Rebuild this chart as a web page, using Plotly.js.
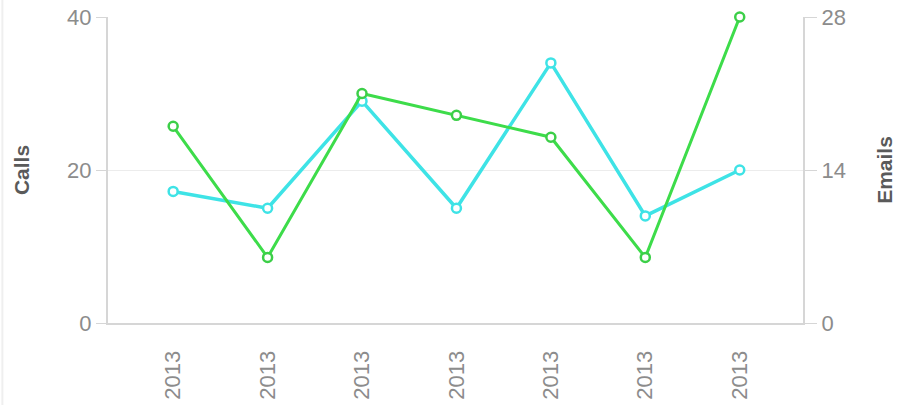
<!DOCTYPE html>
<html>
<head>
<meta charset="utf-8">
<script src="https://cdn.plot.ly/plotly-3.0.1.min.js"></script>
<style>
html,body{margin:0;padding:0;background:#fff;}
#chart{width:904px;height:405px;}
</style>
</head>
<body>
<div id="chart"></div>
<script>
const positions = [0, 1, 2, 3, 4, 5, 6];
const tickLabels = ["2013", "2013", "2013", "2013", "2013", "2013", "2013"];
const calls = [17.2, 15, 29, 15, 34, 14, 20];
const emails = [18, 6, 21, 19, 17, 6, 28];

const traces = [
  {
    x: positions, y: calls, name: "Calls", yaxis: "y",
    mode: "lines+markers", type: "scatter",
    line: {color: "#3ee3e6", width: 3.5},
    marker: {symbol: "circle", size: 9, color: "#ffffff", line: {color: "#3ee3e6", width: 2.5}},
    cliponaxis: false
  },
  {
    x: positions, y: emails, name: "Emails", yaxis: "y2",
    mode: "lines+markers", type: "scatter",
    line: {color: "#3ddc4a", width: 3},
    marker: {symbol: "circle", size: 9, color: "#ffffff", line: {color: "#3ccf48", width: 2.5}},
    cliponaxis: false
  }
];

const tickFont = {family: "Liberation Sans, Arial, sans-serif", size: 22, color: "#8c8c8c"};
const titleFont = {family: "Liberation Sans, Arial, sans-serif", size: 21, color: "#5a5a5a", weight: "bold"};

const layout = {
  width: 904, height: 405,
  margin: {l: 108, r: 101, t: 17, b: 82},
  paper_bgcolor: "#ffffff", plot_bgcolor: "#ffffff",
  showlegend: false,
  xaxis: {
    range: [-0.69, 6.67],
    tickmode: "array", tickvals: positions, ticktext: tickLabels,
    tickangle: -90, tickfont: tickFont,
    showgrid: false, zeroline: false,
    showline: true, linecolor: "#d6d6d6", linewidth: 2,
    ticks: "outside", ticklen: 17, tickcolor: "rgba(0,0,0,0)"
  },
  yaxis: {
    range: [0, 40], tickvals: [0, 20, 40],
    tickfont: tickFont,
    title: {text: "Calls", font: titleFont, standoff: 32},
    showgrid: true, gridcolor: "#ececec", gridwidth: 1,
    zeroline: false, showline: true, linecolor: "#d6d6d6", linewidth: 2,
    ticks: "outside", ticklen: 10, tickcolor: "#d6d6d6", tickwidth: 1
  },
  yaxis2: {
    range: [0, 28], tickvals: [0, 14, 28],
    overlaying: "y", side: "right",
    tickfont: tickFont,
    title: {text: "Emails", font: titleFont, standoff: 32},
    showgrid: false, zeroline: false,
    showline: true, linecolor: "#d6d6d6", linewidth: 2,
    ticks: "outside", ticklen: 12, tickcolor: "#d6d6d6", tickwidth: 1
  },
  shapes: [
    {type: "line", xref: "paper", yref: "paper", x0: -0.152, x1: -0.152, y0: -0.3, y1: 1.1,
     line: {color: "#efefef", width: 2}}
  ]
};

Plotly.newPlot("chart", traces, layout, {displayModeBar: false, staticPlot: true});
</script>
</body>
</html>
